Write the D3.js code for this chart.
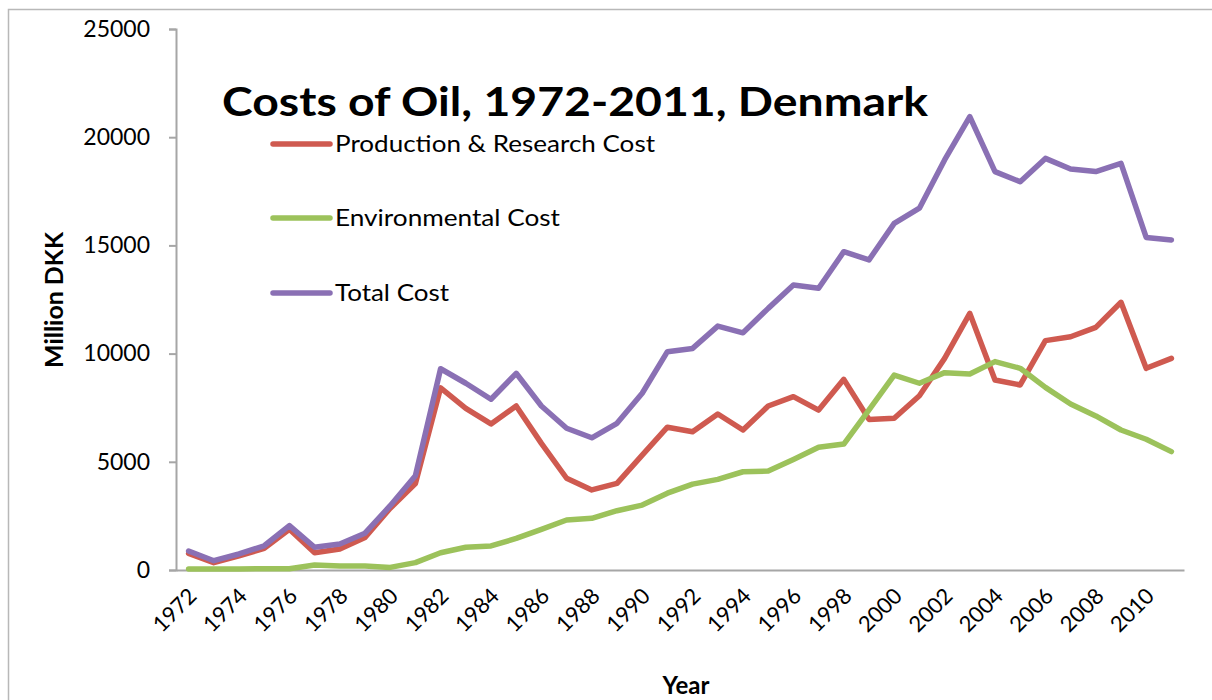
<!DOCTYPE html>
<html>
<head>
<meta charset="utf-8">
<script src="https://cdn.jsdelivr.net/npm/d3@7"></script>
<style>
  html, body { margin: 0; padding: 0; background: #fff; }
  svg { display: block; }
  text { font-family: Lato, "Open Sans", sans-serif; fill: #000; }
</style>
</head>
<body>
<svg id="chart" width="1212" height="700"></svg>
<script>
const years = d3.range(1972, 2012);
const tickYears = d3.range(1972, 2011, 2);
const yTicks = [0, 5000, 10000, 15000, 20000, 25000];

const productionCost = [770, 340, 650, 1000, 1880, 800, 970, 1500, 2850, 4000,
  8420, 7470, 6750, 7580, 5850, 4240, 3700, 4000, 5310, 6600,
  6390, 7210, 6470, 7580, 8010, 7390, 8810, 6960, 7010, 8050,
  9780, 11860, 8780, 8550, 10600, 10780, 11210, 12370, 9320, 9780];
const environmentalCost = [50, 50, 50, 60, 60, 230, 180, 180, 120, 340,
  800, 1050, 1110, 1460, 1880, 2310, 2390, 2740, 3000, 3550,
  3970, 4190, 4540, 4570, 5110, 5670, 5820, 7400, 9010, 8630,
  9120, 9060, 9630, 9320, 8440, 7670, 7120, 6470, 6040, 5470];
const totalCost = [878, 430, 740, 1120, 2050, 1050, 1200, 1700, 2970, 4360,
  9300, 8630, 7890, 9090, 7580, 6550, 6110, 6780, 8170, 10090,
  10240, 11270, 10960, 12090, 13170, 13020, 14710, 14330, 16020, 16720,
  18950, 20950, 18410, 17940, 19020, 18530, 18410, 18790, 15370, 15250];

const seriesNames = ["Production & Research Cost", "Environmental Cost", "Total Cost"];
const seriesColors = ["#CF5A50", "#9CC25B", "#8A70B4"];
const seriesValues = [productionCost, environmentalCost, totalCost];

const svg = d3.select("#chart");
const plot = { left: 176, right: 1184, top: 29, bottom: 570 };

// outer frame
svg.append("rect").attr("x", 8.5).attr("y", 9.5).attr("width", 1250).attr("height", 750)
  .attr("fill", "none").attr("stroke", "#B8B8B8").attr("stroke-width", 1.5);

const x = d3.scaleBand().domain(years).range([plot.left, plot.right]).padding(0);
const xc = d => x(d) + x.bandwidth() / 2;
const y = d3.scaleLinear().domain([0, 25000]).range([plot.bottom, plot.top]);

// y axis
const yAxis = svg.append("g").attr("transform", `translate(${plot.left},0)`)
  .call(d3.axisLeft(y).tickValues(yTicks).tickSize(7).tickPadding(19).tickFormat(d3.format("d")));
yAxis.select(".domain").attr("stroke", "#A6A6A6").attr("stroke-width", 2);
yAxis.selectAll(".tick line").attr("stroke", "#A6A6A6").attr("stroke-width", 2);
yAxis.selectAll(".tick text").attr("font-size", 23).attr("font-family", "Lato, sans-serif").attr("fill", "#000");

// x axis
const xAxis = svg.append("g").attr("transform", `translate(0,${plot.bottom})`)
  .call(d3.axisBottom(x).tickValues(tickYears).tickSize(0).tickPadding(0));
xAxis.select(".domain").attr("stroke", "#A6A6A6").attr("stroke-width", 2);
xAxis.selectAll(".tick text")
  .attr("font-size", 22).attr("font-family", "Lato, sans-serif").attr("fill", "#000")
  .attr("text-anchor", "end").attr("dy", "0.35em")
  .attr("transform", "translate(4,22) rotate(-45)");

// lines
const line = d3.line().x((d, i) => xc(years[i])).y(d => y(d));
seriesValues.forEach((vals, k) => {
  svg.append("path").datum(vals)
    .attr("d", line)
    .attr("fill", "none")
    .attr("stroke", seriesColors[k])
    .attr("stroke-width", 5.5)
    .attr("stroke-linejoin", "round")
    .attr("stroke-linecap", "round");
});

// title
svg.append("text").attr("x", 222).attr("y", 116)
  .attr("font-size", 40).attr("font-weight", "bold")
  .attr("textLength", 706).attr("lengthAdjust", "spacingAndGlyphs")
  .text("Costs of Oil, 1972-2011, Denmark");

// legend
const legendY = [144, 218, 293];
const legendW = [320, 225, 114];
seriesNames.forEach((name, k) => {
  svg.append("line").attr("x1", 273).attr("x2", 330)
    .attr("y1", legendY[k]).attr("y2", legendY[k])
    .attr("stroke", seriesColors[k]).attr("stroke-width", 5.5).attr("stroke-linecap", "round");
  svg.append("text").attr("x", 335).attr("y", legendY[k] + 8)
    .attr("font-size", 23)
    .attr("textLength", legendW[k]).attr("lengthAdjust", "spacingAndGlyphs")
    .text(name);
});

// axis titles
svg.append("text").attr("transform", "translate(63,300) rotate(-90)")
  .attr("text-anchor", "middle").attr("font-size", 24).attr("font-weight", "bold")
  .attr("textLength", 136).attr("lengthAdjust", "spacingAndGlyphs")
  .text("Million DKK");
svg.append("text").attr("x", 686).attr("y", 694)
  .attr("text-anchor", "middle").attr("font-size", 24).attr("font-weight", "bold")
  .text("Year");
</script>
</body>
</html>
